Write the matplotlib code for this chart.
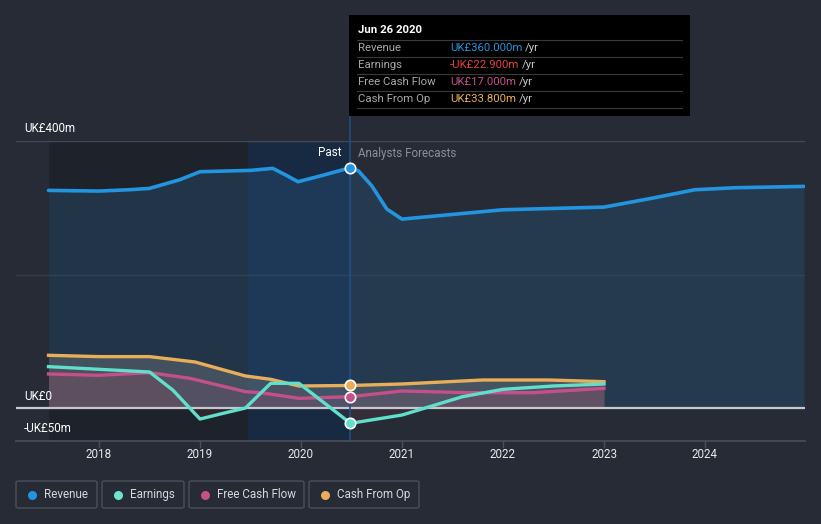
import matplotlib
matplotlib.use("Agg")
import matplotlib.pyplot as plt
import numpy as np
from matplotlib.patches import Rectangle, FancyBboxPatch

plt.rcParams['font.family'] = ['Roboto', 'DejaVu Sans']

# ---- data (UK£ m) ----
rev_x = [2017.5, 2018.0, 2018.3, 2018.5, 2018.8, 2019.0, 2019.5, 2019.72, 2019.85, 2019.97,
         2020.2, 2020.49, 2020.57, 2020.7, 2020.85, 2021.0, 2021.5, 2022.0, 2022.5, 2023.0, 2023.5,
         2023.9, 2024.3, 2024.98]
rev_y = [326, 325, 327, 329, 342, 354, 356, 359, 349, 339,
         348, 360, 355, 333, 298, 283, 290, 297, 299, 301, 315,
         327, 330, 332]

earn_x = [2017.5, 2018.0, 2018.5, 2018.73, 2019.0, 2019.2, 2019.45, 2019.7, 2019.98,
          2020.49, 2021.0, 2021.6, 2022.0, 2022.5, 2023.0]
earn_y = [62, 58, 54, 27, -16.5, -9, 0, 37, 37,
          -22.9, -10.5, 17, 28, 33, 36]

fcf_x = [2017.5, 2018.0, 2018.5, 2018.9, 2019.45, 2019.6, 2019.98, 2020.49, 2021.0,
         2021.65, 2022.3, 2023.0]
fcf_y = [51, 49, 53, 44.5, 24.5, 23, 14.5, 17, 25.5,
         23, 23, 29.5]

cfo_x = [2017.5, 2018.0, 2018.5, 2018.95, 2019.45, 2019.7, 2019.98, 2020.49, 2021.0,
         2021.8, 2022.45, 2023.0]
cfo_y = [79, 77, 77, 69, 48, 43, 33, 33.8, 36,
         42, 42, 39.5]

now_x = 2020.49
tooltip_date = "Jun 26 2020"
tooltip_rows = [("Revenue", "UK£360.000m", "#2394df"),
                ("Earnings", "-UK£22.900m", "#e5403f"),
                ("Free Cash Flow", "UK£17.000m", "#c4508a"),
                ("Cash From Op", "UK£33.800m", "#e8ae5a")]
year_ticks = [2018, 2019, 2020, 2021, 2022, 2023, 2024]
legend_items = [("Revenue", "#2394df"), ("Earnings", "#6fe3cf"),
                ("Free Cash Flow", "#c4508a"), ("Cash From Op", "#e8ae5a")]

C_REV = "#2394df"
C_EARN = "#5fdfcc"
C_FCF = "#c4508a"
C_CFO = "#e8ae5a"
BG = "#262b36"

W, H = 821, 524
fig = plt.figure(figsize=(W / 100, H / 100), dpi=100)
fig.patch.set_facecolor(BG)

def fx(px):
    return px / W

def fy(py):
    return 1 - py / H

ax_l, ax_r, ax_t, ax_b = 16, 805, 141, 441.4
ax = fig.add_axes([fx(ax_l), fy(ax_b), fx(ax_r) - fx(ax_l), fy(ax_t) - fy(ax_b)])
ax.set_facecolor(BG)
x0 = 2018 + (ax_l - 99) / 101
x1 = 2018 + (ax_r - 99) / 101
ax.set_xlim(x0, x1)
ax.set_ylim(-50, 400)
for s in ax.spines.values():
    s.set_visible(False)
ax.set_yticks([])
ax.set_xticks([])

# past dark region and highlight
past_start = 2017.5
hl_start = 2019.48
ax.add_patch(Rectangle((past_start, -50), hl_start - past_start, 450, facecolor="#1e222a",
                       edgecolor="none", zorder=0))
ax.add_patch(Rectangle((hl_start, -50), now_x - hl_start, 450, facecolor="#182a42",
                       edgecolor="none", zorder=0))

# grid
ax.axhline(400, color="#444955", lw=1, zorder=1)
ax.axhline(200, color="#363b47", lw=1, zorder=1)

# revenue fill
ax.fill_between(rev_x, rev_y, 0, color="#26547a", alpha=0.38, lw=0, zorder=2)

# other fills
ax.fill_between(cfo_x, cfo_y, 0, color="#8a8a8a", alpha=0.33, lw=0, zorder=2)
ax.fill_between(fcf_x, fcf_y, 0, color=C_FCF, alpha=0.12, lw=0, zorder=2)
ax.fill_between(earn_x, earn_y, 0, color="#c04050", alpha=0.10, lw=0, zorder=2)

# zero line
ax.axhline(0, color="#c8c8cc", lw=1.6, zorder=3)

# lines
ax.plot(rev_x, rev_y, color=C_REV, lw=2.6, zorder=5, solid_joinstyle="round", solid_capstyle="round")
ax.plot(cfo_x, cfo_y, color=C_CFO, lw=2.4, zorder=5, solid_joinstyle="round")
ax.plot(fcf_x, fcf_y, color=C_FCF, lw=2.4, zorder=5, solid_joinstyle="round")
ax.plot(earn_x, earn_y, color=C_EARN, lw=2.4, zorder=6, solid_joinstyle="round")

# markers at now
for xs, ys, c in [(rev_x, rev_y, C_REV), (cfo_x, cfo_y, C_CFO), (fcf_x, fcf_y, C_FCF), (earn_x, earn_y, C_EARN)]:
    i = xs.index(now_x)
    ax.plot([now_x], [ys[i]], 'o', ms=7.5, mfc=c, mec="white", mew=1.2, zorder=8)

# vertical now line
ax.plot([now_x, now_x], [-50, 400 + (141 - 116) / (300 / 450)], color="#1f4f85", lw=1.2,
        zorder=4, clip_on=False)

# bottom axis line and ticks
ax.plot([x0, x1], [-50, -50], color="#4a4f5b", lw=1.2, clip_on=False, zorder=4)
for t in year_ticks:
    ax.plot([t, t], [-50, -50 - 6 * 450 / 300], color="#4a4f5b", lw=1, clip_on=False)
    ax.text(t, -50 - 13 * 450 / 300, str(t), color="#e8e8e8", fontsize=8.4,
            ha="center", va="center", clip_on=False)

# y labels
fig.text(fx(24), fy(129), "UK£400m", color="white", fontsize=8.4, va="center", ha="left")
fig.text(fx(24), fy(396), "UK£0", color="white", fontsize=8.4, va="center", ha="left")
fig.text(fx(24), fy(429), "-UK£50m", color="white", fontsize=8.4, va="center", ha="left")

# past / forecast labels
fig.text(fx(341), fy(153), "Past", color="white", fontsize=8.4, va="center", ha="right")
fig.text(fx(358), fy(153), "Analysts Forecasts", color="#8b8f98", fontsize=8.4, va="center", ha="left")

# tooltip
tt_l, tt_t, tt_r, tt_b = 349, 15, 690, 116
fig.patches.append(Rectangle((fx(tt_l), fy(tt_b)), fx(tt_r) - fx(tt_l), fy(tt_t) - fy(tt_b),
                             transform=fig.transFigure, facecolor="#000000", edgecolor="none", zorder=10))
fig.text(fx(358), fy(30), tooltip_date, color="white", fontsize=8.2, fontweight="bold",
         va="center", ha="left", zorder=11)
row_y = [48, 65, 82, 99]
for yy in [40, 57, 74, 91, 108]:
    fig.add_artist(plt.Line2D([fx(357), fx(682)], [fy(yy), fy(yy)], color="#3a3a3a", lw=0.8, zorder=11))
for (lab, val, c), yy in zip(tooltip_rows, row_y):
    fig.text(fx(358), fy(yy), lab, color="#a8a8a8", fontsize=8.2, va="center", ha="left", zorder=11)
    t = fig.text(fx(450), fy(yy), val, color=c, fontsize=8.2, va="center", ha="left", zorder=11)
    fig.canvas.draw()
    bb = t.get_window_extent()
    fig.text(bb.x1 / W + fx(3), fy(yy), "/yr", color="#c8c8c8", fontsize=8.2, va="center", ha="left", zorder=11)

# legend
boxes = [(16, 97), (102, 184), (189, 304), (309, 419)]
for (lab, c), (bl, br) in zip(legend_items, boxes):
    fig.patches.append(FancyBboxPatch((fx(bl), fy(508)), fx(br) - fx(bl), fy(481) - fy(508),
                                      boxstyle="round,pad=0,rounding_size=0.003",
                                      transform=fig.transFigure, facecolor="none",
                                      edgecolor="#4a4f5b", lw=1))
    fig.add_artist(plt.Line2D([fx(bl + 16)], [fy(494.5)], marker="o", ms=6.5, color=c, mec="none"))
    fig.text(fx(bl + 28), fy(494.5), lab, color="#d8d8d8", fontsize=8.4, va="center", ha="left")

fig.savefig("out.png", dpi=100, facecolor=BG)
